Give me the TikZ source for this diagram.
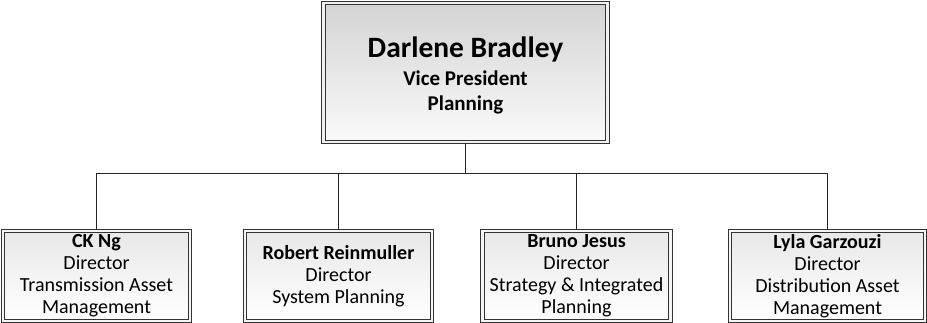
\documentclass[tikz,border=0pt]{standalone}
\usepackage{fontspec}
\setmainfont{Carlito}
\tikzset{
  headbox/.style  = {draw=black!80, line width=1.1pt, double=black!6, double distance=2.6pt,
                     top color=black!17, bottom color=black!2, minimum width=284pt, minimum height=139pt,
                     inner sep=0pt, align=center, font=\bfseries\fontsize{21}{25}\selectfont},
  staffbox/.style = {draw=black!80, line width=1pt, double=black!4, double distance=2.4pt,
                     top color=black!9, bottom color=white, minimum height=90pt,
                     inner sep=0pt, align=center, font=\fontsize{20}{22}\selectfont},
  link/.style     = {draw=black!85, line width=0.8pt}
}

\begin{document}
\begin{tikzpicture}[x=1pt, y=-1pt]
  \useasboundingbox (0,0) rectangle (927,323);

  \node[headbox] (vp) at (465.5,72.5)
    {\rule{0pt}{27pt}{\fontsize{29.5}{25}\selectfont Darlene Bradley}\\[3pt] Vice President\\ Planning};

  % directors
  \node[staffbox, minimum width=187pt] (ng)         at (96.5,276)  {\textbf{CK Ng}\\ Director\\ Transmission Asset\\ Management};
  \node[staffbox, minimum width=187pt] (reinmuller) at (338.5,276) {\textbf{Robert Reinmuller}\\ Director\\ System Planning};
  \node[staffbox, minimum width=188pt] (jesus)      at (576.5,276) {\textbf{Bruno Jesus}\\ Director\\ Strategy \& Integrated\\ Planning};
  \node[staffbox, minimum width=195pt] (garzouzi)   at (827.5,276) {\textbf{Lyla Garzouzi}\\ Director\\ Distribution Asset\\ Management};

  \coordinate (bus) at (465.5,173);
  \draw[link] (vp.south) -- (bus);
  \foreach \who in {ng, reinmuller, jesus, garzouzi}
    \draw[link] (bus) -| (\who.north);
\end{tikzpicture}
\end{document}
